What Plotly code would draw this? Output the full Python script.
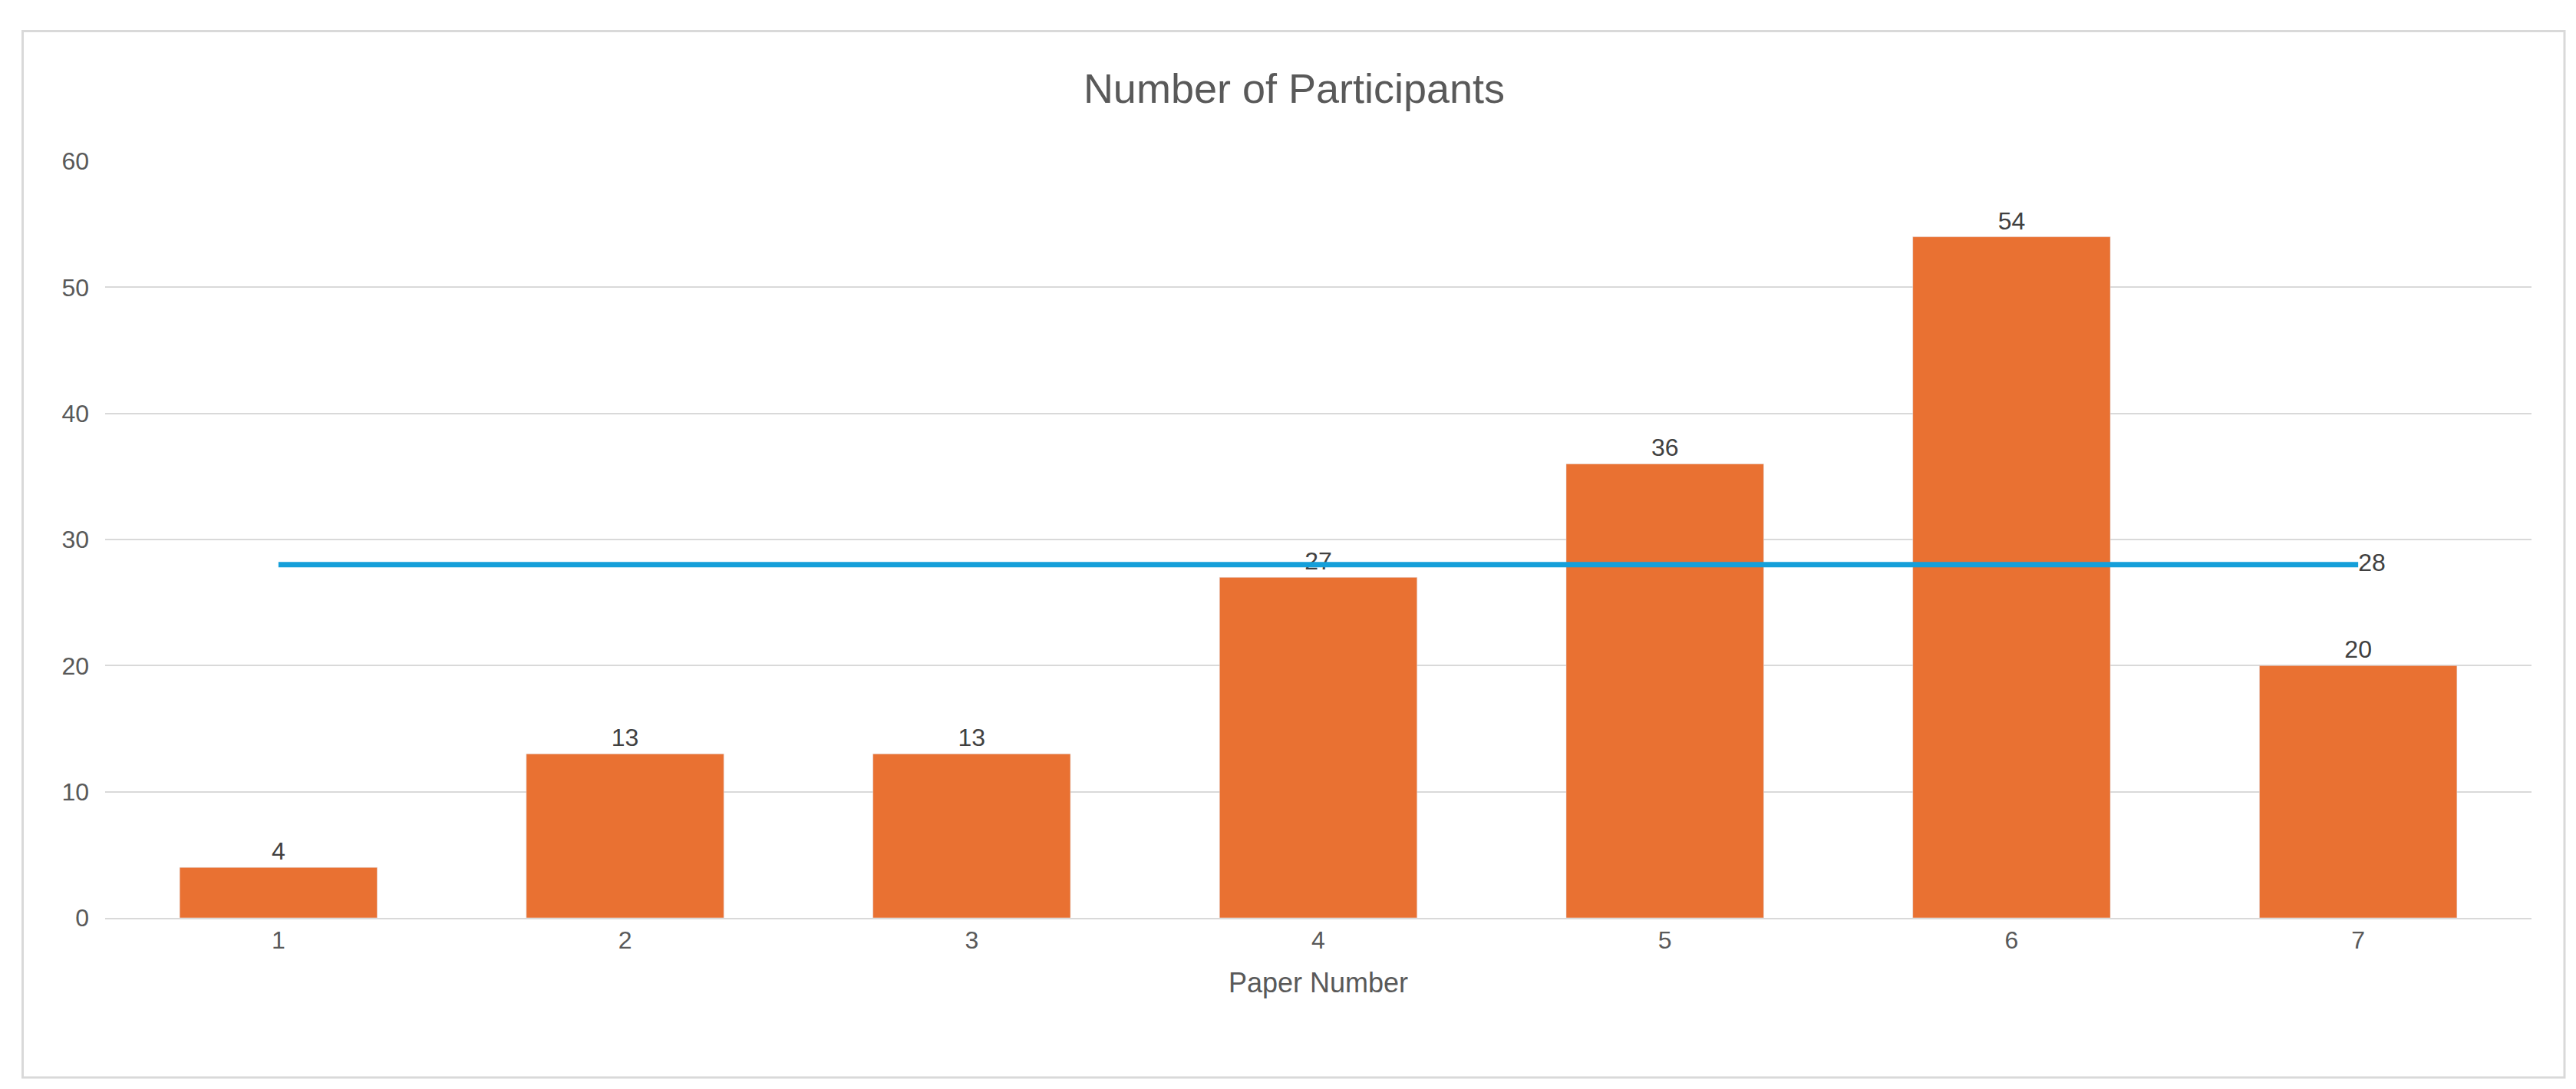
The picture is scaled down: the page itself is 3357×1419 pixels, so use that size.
import plotly.graph_objects as go

papers = [1, 2, 3, 4, 5, 6, 7]
participants = [4, 13, 13, 27, 36, 54, 20]
average = [28] * 7
yticks = [0, 10, 20, 30, 40, 50, 60]

fig = go.Figure()
fig.add_bar(x=papers, y=participants, marker_color="#E97132", width=0.57,
            text=participants, textposition="outside",
            textfont=dict(size=32, color="#404040"), cliponaxis=False)
fig.add_scatter(x=papers, y=average, mode="lines+text", line=dict(color="#159FD9", width=7),
                text=[""] * 6 + [str(average[-1])], textposition="middle right",
                textfont=dict(size=32, color="#404040"), cliponaxis=False)

fig.update_layout(
    width=3357, height=1419, showlegend=False,
    plot_bgcolor="white", paper_bgcolor="white",
    margin=dict(l=129, r=66, t=202, b=231),
    font=dict(family="Liberation Sans, Arial", color="#595959"),
    title=dict(text="Number of Participants", x=0.5, xanchor="center", y=1 - 107 / 1419,
               yanchor="middle", font=dict(size=54, color="#595959")),
    bargap=0.43,
    shapes=[dict(type="rect", xref="paper", yref="paper", x0=-0.034, x1=1.0136,
                 y0=-0.211, y1=1.172, line=dict(color="#D9D9D9", width=3))],
)
fig.update_xaxes(tickvals=papers, range=[0.5, 7.5], showgrid=False, showline=True,
                 linecolor="#D9D9D9", linewidth=2, ticks="",
                 tickfont=dict(size=32, color="#595959"),
                 title=dict(text="Paper Number", font=dict(size=36, color="#595959"), standoff=25))
fig.update_yaxes(tickvals=yticks, range=[0, 60], showgrid=True, gridcolor="#D9D9D9", gridwidth=2,
                 zeroline=False, tickfont=dict(size=32, color="#595959"), ticklabelstandoff=20)

fig.write_html("out.html")
